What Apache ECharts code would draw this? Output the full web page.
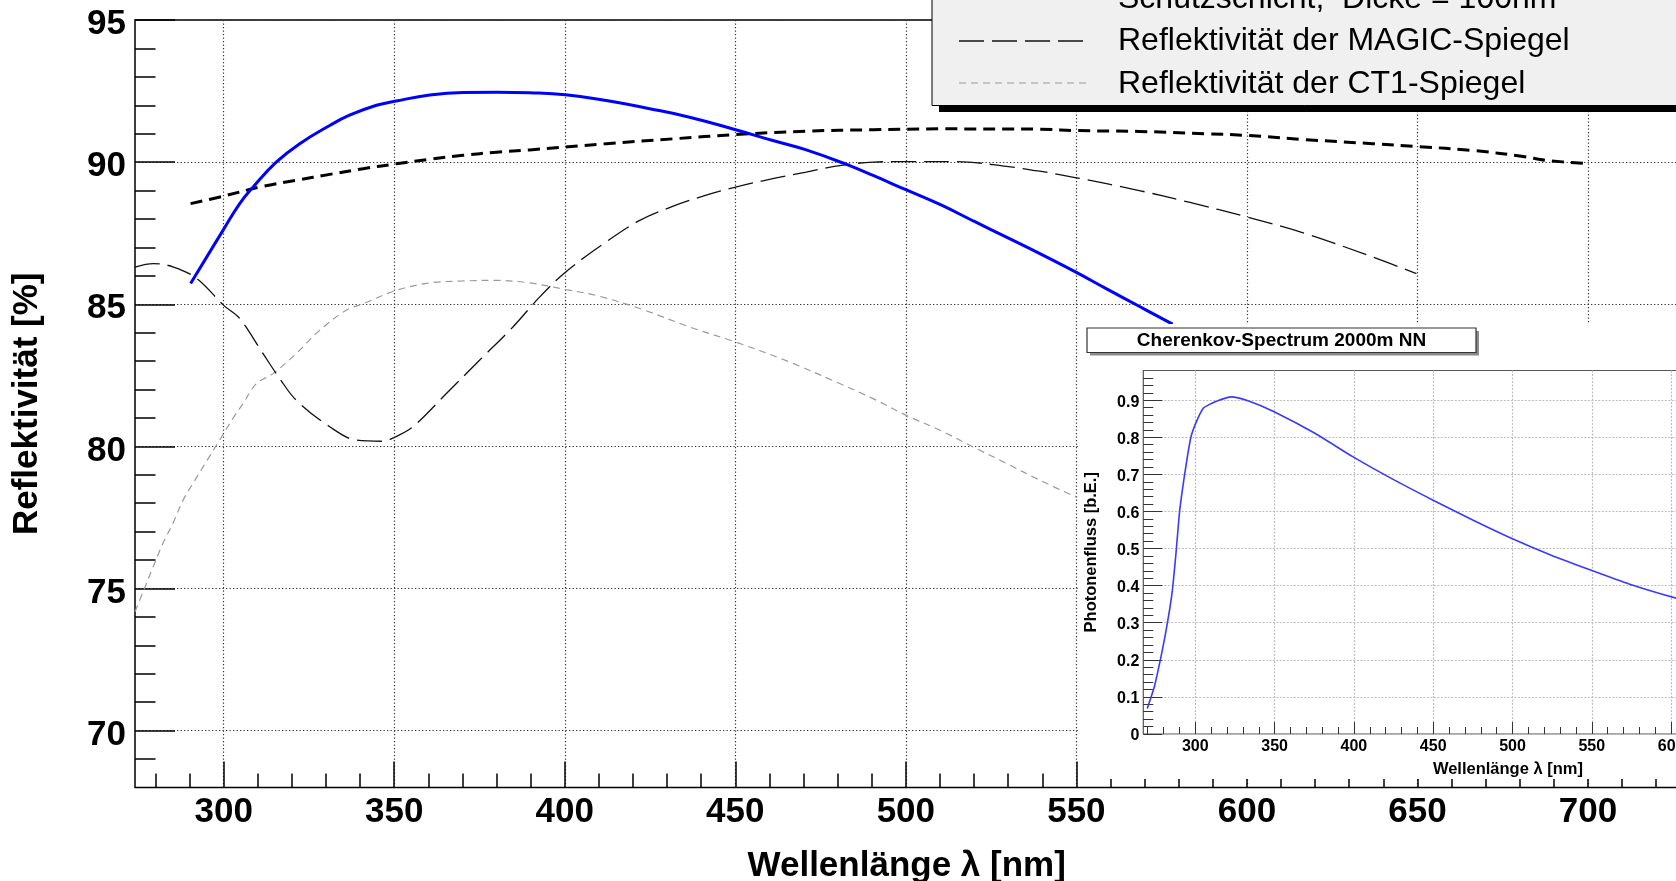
<!DOCTYPE html>
<html>
<head>
<meta charset="utf-8">
<title>Reflektivität der Spiegel</title>
<script src="https://cdn.jsdelivr.net/npm/echarts@6/dist/echarts.min.js"></script>
<style>
  html, body { margin: 0; padding: 0; background: #fff; }
  #chart { width: 1676px; height: 881px; }
</style>
</head>
<body>
<div id="chart"></div>
<script>
// ---- Hauptdiagramm: Reflektivität [%] über Wellenlänge [nm] ----
const blueNm   = [290.3, 299.8, 304.7, 308.6, 315.4, 322.3, 331.1, 336.9, 344.8, 350.6, 360.4, 370.2, 380.0, 389.7, 400.2, 412.2, 424.9, 436.6, 450.1, 461.0, 470.8, 482.6, 490.4, 500.0, 510.0, 519.8, 529.5, 539.3, 550.0, 558.6, 568.4, 578.2];
const blueRefl = [85.73, 87.60, 88.54, 89.12, 90.00, 90.65, 91.29, 91.65, 92.00, 92.15, 92.36, 92.45, 92.46, 92.44, 92.37, 92.17, 91.88, 91.58, 91.14, 90.76, 90.43, 89.92, 89.53, 89.03, 88.51, 87.93, 87.36, 86.78, 86.12, 85.56, 84.93, 84.30];

const dotNm   = [290.3, 299.8, 311.5, 321.3, 331.1, 340.9, 350.6, 360.4, 370.2, 380.0, 389.7, 412.2, 431.8, 450.1, 470.8, 490.4, 510.0, 539.3, 550.0, 568.4, 588.0, 600.0, 617.4, 636.9, 650.0, 666.3, 681.0, 687.8, 700.0];
const dotRefl = [88.54, 88.80, 89.15, 89.36, 89.57, 89.77, 89.94, 90.10, 90.24, 90.35, 90.43, 90.65, 90.82, 90.97, 91.09, 91.14, 91.17, 91.16, 91.11, 91.08, 91.00, 90.94, 90.79, 90.65, 90.55, 90.41, 90.20, 90.06, 89.95];

const magicNm   = [274.0, 279.4, 285.3, 292.2, 300.0, 304.7, 311.5, 316.4, 321.3, 331.1, 338.9, 346.7, 350.3, 355.5, 365.3, 375.0, 384.8, 392.6, 400.2, 412.2, 422.0, 431.8, 441.0, 450.1, 461.0, 470.8, 480.6, 490.4, 500.2, 514.9, 529.5, 539.3, 550.0, 568.4, 583.0, 600.0, 617.4, 636.9, 649.7];
const magicRefl = [86.31, 86.43, 86.31, 85.90, 84.96, 84.50, 83.27, 82.39, 81.62, 80.69, 80.22, 80.18, 80.33, 80.69, 81.86, 83.03, 84.20, 85.25, 86.13, 87.20, 87.95, 88.45, 88.82, 89.12, 89.42, 89.65, 89.88, 90.00, 90.02, 90.02, 89.85, 89.68, 89.45, 89.00, 88.59, 88.07, 87.48, 86.66, 86.08];

const ct1Nm   = [274.0, 276.4, 279.3, 282.2, 285.1, 288.1, 291.0, 294.9, 298.8, 302.7, 305.7, 309.6, 314.5, 321.3, 328.1, 335.9, 340.9, 350.6, 360.4, 370.2, 380.0, 389.7, 400.2, 409.2, 422.0, 436.6, 450.1, 465.9, 480.6, 490.4, 500.0, 510.0, 519.8, 529.5, 539.3, 550.2];
const ct1Refl = [74.18, 74.89, 75.76, 76.59, 77.29, 78.11, 78.70, 79.46, 80.22, 80.98, 81.51, 82.21, 82.56, 83.27, 84.08, 84.79, 85.02, 85.49, 85.75, 85.82, 85.84, 85.75, 85.52, 85.31, 84.85, 84.20, 83.67, 82.97, 82.21, 81.68, 81.10, 80.57, 79.98, 79.40, 78.81, 78.20];

const xLabels     = [300, 350, 400, 450, 500, 550, 600, 650, 700];
const xMinorTicks = [280, 290, 310, 320, 330, 340, 360, 370, 380, 390, 410, 420, 430, 440, 460, 470, 480, 490, 510, 520, 530, 540, 560, 570, 580, 590, 610, 620, 630, 640, 660, 670, 680, 690, 710, 720];
const yLabels     = [70, 75, 80, 85, 90, 95];
const yMinorTicks = [69, 71, 72, 73, 74, 76, 77, 78, 79, 81, 82, 83, 84, 86, 87, 88, 89, 91, 92, 93, 94];

// ---- Einsatz: Cherenkov-Spektrum in 2000 m NN ----
const cherNm   = [269.7, 274.2, 277.9, 281.6, 285.3, 287.8, 290.2, 294.0, 297.2, 300.5, 305.0, 310.1, 315.0, 322.4, 333.6, 349.7, 375.7, 399.5, 425.3, 449.6, 474.9, 499.6, 524.4, 549.2, 573.9, 603.2, 620.0];
const cherFlux = [0.069, 0.128, 0.199, 0.280, 0.379, 0.487, 0.604, 0.720, 0.800, 0.840, 0.878, 0.891, 0.900, 0.909, 0.898, 0.869, 0.810, 0.747, 0.685, 0.631, 0.577, 0.527, 0.482, 0.442, 0.404, 0.366, 0.347];

const insetXLabels     = [300, 350, 400, 450, 500, 550, 600, 650, 700];
const insetXMinorTicks = [270, 280, 290, 310, 320, 330, 340, 360, 370, 380, 390, 410, 420, 430, 440, 460, 470, 480, 490, 510, 520, 530, 540, 560, 570, 580, 590, 610, 620, 630, 640, 660, 670, 680, 690, 710, 720];
const insetYLabels     = [0, 0.1, 0.2, 0.3, 0.4, 0.5, 0.6, 0.7, 0.8, 0.9];
const insetYMinorTicks = [0.02, 0.04, 0.06, 0.08, 0.12, 0.14, 0.16, 0.18, 0.22, 0.24, 0.26, 0.28, 0.32, 0.34, 0.36, 0.38, 0.42, 0.44, 0.46, 0.48, 0.52, 0.54, 0.56, 0.58, 0.62, 0.64, 0.66, 0.68, 0.72, 0.74, 0.76, 0.78, 0.82, 0.84, 0.86, 0.88, 0.92, 0.94, 0.96];

const zip = (xs, ys) => xs.map((x, i) => [x, ys[i]]);

const FONT = '"Liberation Sans", Arial, Helvetica, sans-serif';

// line styles shared by curves and legend samples
const styleMagic = { color: '#111', width: 1.3, type: [25, 8] };
const styleCt1   = { color: '#9a9a9a', width: 1.2, type: [7, 5] };
const styleDots  = { color: '#000', width: 3, type: [12, 7] };
const styleBlue  = { color: '#0000ff', width: 3, type: 'solid' };

const mainGridLine = { show: true, lineStyle: { color: '#333', width: 1.2, type: [1.3, 2.2] } };
const insetGridLine = { show: true, lineStyle: { color: '#bdbdbd', width: 1.2, type: [2, 1.5] } };

const chart = echarts.init(document.getElementById('chart'), null, { renderer: 'canvas' });

const X_MIN = 274, X_MAX = 726.5, Y_MIN = 68, Y_MAX = 95;
const IX_MIN = 267.2, IX_MAX = 727, IY_MIN = 0, IY_MAX = 0.98;

const option = {
  animation: false,
  backgroundColor: '#ffffff',
  grid: [
    { left: 135, top: 20, width: (X_MAX - X_MIN) * 3.4108, height: 767.5, outerBoundsMode: 'none', containLabel: false,
      show: true, borderColor: '#000', borderWidth: 1.5, z: 0 },
    { left: 1143.3, top: 370.5, width: (IX_MAX - IX_MIN) * 1.586, height: 363.5, outerBoundsMode: 'none', containLabel: false,
      show: true, borderColor: '#555', borderWidth: 1.2, z: 5 }
  ],
  xAxis: [
    { // main, major ticks and labels
      type: 'value', gridIndex: 0, position: 'bottom', min: X_MIN, max: X_MAX,
      axisLine: { show: false },
      axisTick: { show: true, inside: true, length: 26, customValues: xLabels, lineStyle: { color: '#000', width: 1.5 } },
      axisLabel: { customValues: xLabels, fontFamily: FONT, fontSize: 35, fontWeight: 'bold', color: '#000', margin: 7 },
      splitLine: mainGridLine,
      name: 'Wellenlänge λ [nm]', nameLocation: 'middle', nameGap: 61,
      nameTextStyle: { fontFamily: FONT, fontSize: 35, fontWeight: 'bold', color: '#000' }
    },
    { // main, minor ticks
      type: 'value', gridIndex: 0, position: 'bottom', min: X_MIN, max: X_MAX,
      axisLine: { show: false },
      axisTick: { show: true, inside: true, length: 14, customValues: xMinorTicks, lineStyle: { color: '#000', width: 1.5 } },
      axisLabel: { show: false }, splitLine: { show: false }
    },
    { // inset, major
      type: 'value', gridIndex: 1, position: 'bottom', min: IX_MIN, max: IX_MAX, z: 5,
      axisLine: { show: false },
      axisTick: { show: true, inside: true, length: 12, customValues: insetXLabels, lineStyle: { color: '#333', width: 1 } },
      axisLabel: { customValues: insetXLabels, fontFamily: FONT, fontSize: 16, fontWeight: 'bold', color: '#000', margin: 5 },
      splitLine: insetGridLine,
      name: 'Wellenlänge λ [nm]', nameLocation: 'middle', nameGap: 27,
      nameTextStyle: { fontFamily: FONT, fontSize: 16.5, fontWeight: 'bold', color: '#000' }
    },
    { // inset, minor
      type: 'value', gridIndex: 1, position: 'bottom', min: IX_MIN, max: IX_MAX, z: 5,
      axisLine: { show: false },
      axisTick: { show: true, inside: true, length: 7, customValues: insetXMinorTicks, lineStyle: { color: '#333', width: 1 } },
      axisLabel: { show: false }, splitLine: { show: false }
    }
  ],
  yAxis: [
    { // main, major
      type: 'value', gridIndex: 0, position: 'left', min: Y_MIN, max: Y_MAX,
      axisLine: { show: false },
      axisTick: { show: true, inside: true, length: 40, customValues: yLabels, lineStyle: { color: '#000', width: 1.5 } },
      axisLabel: { customValues: yLabels, fontFamily: FONT, fontSize: 35, fontWeight: 'bold', color: '#000', margin: 9,
        formatter: '{v|{value}}',
        rich: { v: { fontFamily: FONT, fontSize: 35, fontWeight: 'bold', color: '#000', padding: [9, 0, 0, 0] } } },
      splitLine: mainGridLine,
      name: 'Reflektivität [%]', nameLocation: 'middle', nameGap: 90, nameRotate: 90,
      nameTextStyle: { fontFamily: FONT, fontSize: 35, fontWeight: 'bold', color: '#000' }
    },
    { // main, minor
      type: 'value', gridIndex: 0, position: 'left', min: Y_MIN, max: Y_MAX,
      axisLine: { show: false },
      axisTick: { show: true, inside: true, length: 20.5, customValues: yMinorTicks, lineStyle: { color: '#000', width: 1.5 } },
      axisLabel: { show: false }, splitLine: { show: false }
    },
    { // inset, major
      type: 'value', gridIndex: 1, position: 'left', min: IY_MIN, max: IY_MAX, z: 5,
      axisLine: { show: false },
      axisTick: { show: true, inside: true, length: 19, customValues: insetYLabels, lineStyle: { color: '#333', width: 1 } },
      axisLabel: { customValues: insetYLabels, fontFamily: FONT, fontSize: 16, fontWeight: 'bold', color: '#000', margin: 4,
        formatter: '{v|{value}}',
        rich: { v: { fontFamily: FONT, fontSize: 16, fontWeight: 'bold', color: '#000', padding: [4, 0, 0, 0] } } },
      splitLine: insetGridLine,
      name: 'Photonenfluss [b.E.]', nameLocation: 'middle', nameGap: 43, nameRotate: 90,
      nameTextStyle: { fontFamily: FONT, fontSize: 16.5, fontWeight: 'bold', color: '#000' }
    },
    { // inset, minor
      type: 'value', gridIndex: 1, position: 'left', min: IY_MIN, max: IY_MAX, z: 5,
      axisLine: { show: false },
      axisTick: { show: true, inside: true, length: 10, customValues: insetYMinorTicks, lineStyle: { color: '#333', width: 1 } },
      axisLabel: { show: false }, splitLine: { show: false }
    }
  ],
  series: [
    { type: 'line', name: 'Reflektivität der CT1-Spiegel', xAxisIndex: 0, yAxisIndex: 0,
      data: zip(ct1Nm, ct1Refl), showSymbol: false, symbol: 'none', smooth: 0.35,
      lineStyle: styleCt1, z: 2 },
    { type: 'line', name: 'Reflektivität der MAGIC-Spiegel', xAxisIndex: 0, yAxisIndex: 0,
      data: zip(magicNm, magicRefl), showSymbol: false, symbol: 'none', smooth: 0.35,
      lineStyle: styleMagic, z: 2 },
    { type: 'line', name: 'gepunktet', xAxisIndex: 0, yAxisIndex: 0,
      data: zip(dotNm, dotRefl), showSymbol: false, symbol: 'none', smooth: 0.35,
      lineStyle: styleDots, z: 2 },
    { type: 'line', name: 'SiO2-Schutzschicht', xAxisIndex: 0, yAxisIndex: 0,
      data: zip(blueNm, blueRefl), showSymbol: false, symbol: 'none', smooth: 0.45,
      lineStyle: styleBlue, z: 2 },
    { type: 'line', name: 'Cherenkov-Spectrum 2000m NN', xAxisIndex: 2, yAxisIndex: 2,
      data: zip(cherNm, cherFlux), showSymbol: false, symbol: 'none', smooth: 0.2,
      lineStyle: { color: '#3a3aff', width: 1.6 }, z: 8 }
  ],
  graphic: [
    // white pad behind the inset
    { type: 'rect', z: 3, silent: true, shape: { x: 1078, y: 324, width: 700, height: 455 }, style: { fill: '#fff' } },
    // legend box with drop shadow
    { type: 'rect', z: 3, silent: true, shape: { x: 939, y: -100, width: 800, height: 212 }, style: { fill: '#000' } },
    { type: 'rect', z: 3, silent: true, shape: { x: 932, y: -100, width: 800, height: 205.5 }, style: { fill: '#f0f0f0', stroke: '#000', lineWidth: 1 } },
    { type: 'text', z: 4, silent: true, x: 1118, y: -0.5,
      style: { text: 'Schutzschicht,  Dicke = 100nm', font: '32px ' + FONT, fill: '#000', verticalAlign: 'middle', align: 'left' } },
    { type: 'line', z: 4, silent: true, shape: { x1: 959, y1: 41, x2: 1091, y2: 41 },
      style: { stroke: styleMagic.color, lineWidth: styleMagic.width, lineDash: styleMagic.type } },
    { type: 'text', z: 4, silent: true, x: 1118, y: 41.5,
      style: { text: 'Reflektivität der MAGIC-Spiegel', font: '32px ' + FONT, fill: '#000', verticalAlign: 'middle', align: 'left' } },
    { type: 'line', z: 4, silent: true, shape: { x1: 959, y1: 83, x2: 1091, y2: 83 },
      style: { stroke: styleCt1.color, lineWidth: styleCt1.width, lineDash: styleCt1.type } },
    { type: 'text', z: 4, silent: true, x: 1118, y: 84,
      style: { text: 'Reflektivität der CT1-Spiegel', font: '32px ' + FONT, fill: '#000', verticalAlign: 'middle', align: 'left' } },
    // inset title box
    { type: 'rect', z: 9, silent: true, shape: { x: 1090, y: 331, width: 389, height: 24.5 }, style: { fill: '#8a8a8a' } },
    { type: 'rect', z: 9, silent: true, shape: { x: 1087, y: 328, width: 389, height: 24.5 }, style: { fill: '#fff', stroke: '#333', lineWidth: 1.2 } },
    { type: 'text', z: 10, silent: true, x: 1281.5, y: 341,
      style: { text: 'Cherenkov-Spectrum 2000m NN', font: 'bold 19px ' + FONT, fill: '#000', verticalAlign: 'middle', align: 'center' } }
  ]
};

chart.setOption(option);
</script>
</body>
</html>
